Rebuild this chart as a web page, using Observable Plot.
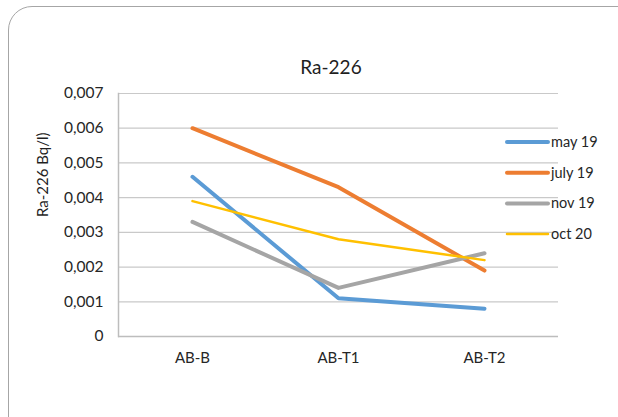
<!DOCTYPE html>
<html>
<head>
<meta charset="utf-8">
<script src="https://cdn.jsdelivr.net/npm/d3@7"></script>
<script src="https://cdn.jsdelivr.net/npm/@observablehq/plot@0.6"></script>
<style>
  html, body { margin: 0; padding: 0; background: #fff; }
  #wrap { position: relative; width: 618px; height: 417px; overflow: hidden; font-family: Lato, "Noto Sans", sans-serif; }
  #border { position: absolute; left: 8px; top: 6px; width: 640px; height: 440px;
            border: 1.3px solid #a6a6a6; border-radius: 24px; box-sizing: border-box; }
  #title { position: absolute; left: 0; width: 662px; top: 55px; text-align: center;
           font-size: 19px; line-height: 24px; color: #1f1f1f; }
  #chart { position: absolute; left: 0; top: 0; }
  #legend { position: absolute; left: 0; top: 0; }
</style>
</head>
<body>
<div id="wrap">
  <div id="border"></div>
  <div id="chart"></div>
  <div id="title">Ra-226</div>
  <svg id="legend" width="618" height="417"></svg>
</div>
<script>
// Sampling sites along the x axis
const sites = ["AB-B", "AB-T1", "AB-T2"];

// Campaigns and their Ra-226 activity (Bq/l) at each site
const seriesNames = ["may 19", "july 19", "nov 19", "oct 20"];
const may19  = [0.0046, 0.0011, 0.0008];
const july19 = [0.0060, 0.0043, 0.0019];
const nov19  = [0.0033, 0.0014, 0.0024];
const oct20  = [0.0039, 0.0028, 0.0022];

const seriesColors = ["#5B9BD5", "#ED7D31", "#A5A5A5", "#FFC000"];
const seriesWidths = [4, 4, 4, 2.5];

// Y-axis tick values
const yTicks = [0, 0.001, 0.002, 0.003, 0.004, 0.005, 0.006, 0.007];

const valuesBySeries = [may19, july19, nov19, oct20];
const rows = seriesNames.flatMap((name, i) =>
  sites.map((site, j) => ({ series: name, site, value: valuesBySeries[i][j] }))
);

const fmt = d => d === 0 ? "0" : d.toFixed(3).replace(".", ",");

const chart = Plot.plot({
  width: 618,
  height: 417,
  marginLeft: 118,
  marginRight: 60,
  marginTop: 93,
  marginBottom: 81,
  style: { fontFamily: "Lato, 'Noto Sans', sans-serif", fontSize: "15px", color: "#262626", background: "transparent" },
  x: { type: "point", domain: sites, padding: 0.5, label: null },
  y: { domain: [0, 0.007], ticks: yTicks, label: null },
  marks: [
    Plot.gridY(yTicks, { stroke: "#c9c9c9", strokeOpacity: 1, strokeWidth: 1.2 }),
    Plot.frame({ anchor: "left", stroke: "#bdbdbd", strokeWidth: 1.5 }),
    Plot.ruleY([0], { stroke: "#bdbdbd", strokeWidth: 1.5 }),
    Plot.axisY(yTicks, { tickSize: 0, tickPadding: 15, tickFormat: fmt, fontSize: 15.5, fill: "#262626" }),
    Plot.axisX(sites, { tickSize: 0, tickPadding: 16, fontSize: 15, fill: "#262626" }),
    Plot.text(["Ra-226 Bq/l)"], { frameAnchor: "left", dx: -75, dy: 2, rotate: -90, fontSize: 15, fill: "#1f1f1f" }),
    ...seriesNames.map((name, i) =>
      Plot.line(rows.filter(r => r.series === name), {
        x: "site", y: "value",
        stroke: seriesColors[i], strokeWidth: seriesWidths[i],
        strokeLinecap: "round", strokeLinejoin: "round"
      })
    )
  ]
});
document.getElementById("chart").appendChild(chart);

// Legend on the right of the plot area
const legend = d3.select("#legend");
const legendTop = 142, legendStep = 30.7;
seriesNames.forEach((name, i) => {
  const y = legendTop + i * legendStep;
  legend.append("line")
    .attr("x1", 507).attr("x2", 548).attr("y1", y).attr("y2", y)
    .attr("stroke", seriesColors[i]).attr("stroke-width", seriesWidths[i])
    .attr("stroke-linecap", "round");
  legend.append("text")
    .attr("x", 551).attr("y", y).attr("dy", "0.35em")
    .attr("font-family", "Lato, 'Noto Sans', sans-serif").attr("font-size", 14.5)
    .attr("fill", "#262626")
    .text(name);
});
</script>
</body>
</html>
